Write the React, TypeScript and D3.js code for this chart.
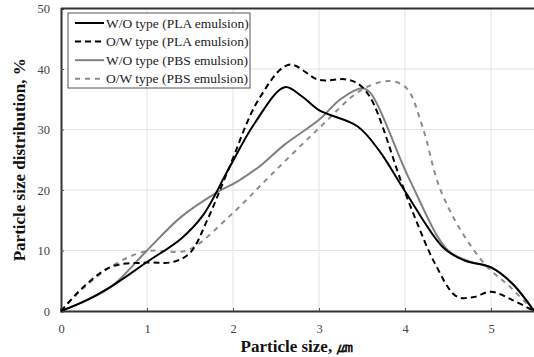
import React, { useRef, useEffect } from "react";
import * as d3 from "d3";

// particle size (um) / distribution (%)
const woPlaX = [0, 0.3, 0.6, 1.0, 1.4, 1.65, 1.95, 2.25, 2.6, 2.8, 3.0, 3.45, 3.7, 4.0, 4.45, 4.7, 5.0, 5.25, 5.5];
const woPlaY = [0, 1.8, 4.2, 8.1, 12, 15.8, 23.5, 31, 37, 35.5, 33.2, 30.5, 26.5, 19.8, 10.4, 8.3, 7.2, 4.5, 0];

const owPlaX = [0, 0.3, 0.6, 1.0, 1.3, 1.5, 1.7, 1.95, 2.3, 2.65, 3.0, 3.3, 3.45, 3.6, 3.95, 4.1, 4.35, 4.6, 4.8, 5.0, 5.25, 5.5];
const owPlaY = [0, 4.5, 7.4, 8.0, 8.1, 9.6, 15, 23.5, 35, 40.7, 38.2, 38.3, 37.6, 35.2, 21.6, 16, 7.8, 2.4, 2.3, 3.2, 1.8, 0];

const woPbsX = [0, 0.3, 0.6, 1.0, 1.4, 1.8, 2.05, 2.3, 2.6, 3.0, 3.25, 3.5, 3.6, 4.05, 4.5, 4.75, 5.0, 5.25, 5.5];
const woPbsY = [0, 1.8, 4.2, 10, 15.6, 19.5, 21.4, 23.8, 27.5, 31.6, 35, 36.8, 36, 21.8, 10, 8.2, 7.2, 4.5, 0];

const owPbsX = [0, 0.2, 0.6, 1.0, 1.4, 1.55, 2.0, 2.45, 3.0, 3.5, 3.83, 4.02, 4.2, 4.4, 4.65, 4.95, 5.22, 5.5];
const owPbsY = [0, 3, 7.5, 9.9, 9.8, 10.6, 16.2, 22.6, 30.2, 36.6, 38, 36.8, 30.6, 20.5, 13.3, 7.4, 4, 0];

const seriesNames = [
  "W/O type (PLA emulsion)",
  "O/W type (PLA emulsion)",
  "W/O type (PBS emulsion)",
  "O/W type (PBS emulsion)",
];

const xTicks = [0, 1, 2, 3, 4, 5];
const yTicks = [0, 10, 20, 30, 40, 50];

const App = () => {
  const ref = useRef<SVGSVGElement>(null);

  useEffect(() => {
    const svgWidth = 534;
    const svgHeight = 357;
    const margin = { top: 8.5, right: 0, bottom: 46, left: 61 };
    const serif = "Liberation Serif, serif";

    const svg = d3.select(ref.current)
      .attr("width", svgWidth)
      .attr("height", svgHeight)
      .attr("font-family", serif);
    svg.selectAll("*").remove();

    const xScale = d3.scaleLinear()
      .domain([0, 5.5])
      .range([margin.left, 534]);
    const yScale = d3.scaleLinear()
      .domain([0, 50])
      .range([svgHeight - margin.bottom, margin.top]);

    // grid
    svg.append("g")
      .selectAll("line.vg")
      .data(xTicks.slice(1))
      .join("line")
      .attr("x1", d => xScale(d)).attr("x2", d => xScale(d))
      .attr("y1", yScale(0)).attr("y2", yScale(50))
      .attr("stroke", "#e3e3e3").attr("stroke-width", 1);
    svg.append("g")
      .selectAll("line.hg")
      .data(yTicks.slice(1, -1))
      .join("line")
      .attr("x1", xScale(0)).attr("x2", xScale(5.5))
      .attr("y1", d => yScale(d)).attr("y2", d => yScale(d))
      .attr("stroke", "#e3e3e3").attr("stroke-width", 1);

    // axes
    const xAxis = svg.append("g")
      .attr("transform", `translate(0,${yScale(0)})`)
      .call(d3.axisBottom(xScale).tickValues(xTicks).tickSize(-3).tickPadding(13).tickFormat(d3.format("d")));
    const yAxis = svg.append("g")
      .attr("transform", `translate(${xScale(0)},0)`)
      .call(d3.axisLeft(yScale).tickValues(yTicks).tickSize(-3).tickPadding(11));
    [xAxis, yAxis].forEach(a => {
      a.attr("font-family", serif).attr("font-size", 12.5);
      a.select(".domain").attr("stroke", "#333").attr("stroke-width", 2);
      a.selectAll(".tick line").attr("stroke", "#555");
      a.selectAll("text").attr("fill", "#444");
    });
    svg.append("line")
      .attr("x1", xScale(0)).attr("x2", xScale(5.5))
      .attr("y1", yScale(50)).attr("y2", yScale(50))
      .attr("stroke", "#333").attr("stroke-width", 2);

    // lines
    const styles = [
      { color: "#000", dash: null, width: 2 },
      { color: "#000", dash: "6,4", width: 2 },
      { color: "#808080", dash: null, width: 2 },
      { color: "#8c8c8c", dash: "5,5", width: 2 },
    ];
    const data = [
      d3.zip(woPlaX, woPlaY),
      d3.zip(owPlaX, owPlaY),
      d3.zip(woPbsX, woPbsY),
      d3.zip(owPbsX, owPbsY),
    ];
    const line = d3.line<number[]>()
      .x(d => xScale(d[0]))
      .y(d => yScale(d[1]))
      .curve(d3.curveCatmullRom.alpha(0.5));

    // draw order: gray first, black on top
    [3, 2, 1, 0].forEach(i => {
      svg.append("path")
        .datum(data[i])
        .attr("fill", "none")
        .attr("stroke", styles[i].color)
        .attr("stroke-width", styles[i].width)
        .attr("stroke-dasharray", styles[i].dash)
        .attr("d", line);
    });

    // legend
    const legend = svg.append("g").attr("transform", "translate(68,13)");
    legend.append("rect")
      .attr("width", 182).attr("height", 75)
      .attr("fill", "#fff").attr("stroke", "#555").attr("stroke-width", 1);
    seriesNames.forEach((name, i) => {
      const y = 10 + i * 18.6;
      legend.append("line")
        .attr("x1", 7).attr("x2", 36).attr("y1", y).attr("y2", y)
        .attr("stroke", styles[i].color)
        .attr("stroke-width", styles[i].width)
        .attr("stroke-dasharray", styles[i].dash);
      legend.append("text")
        .attr("x", 38).attr("y", y + 4.5)
        .attr("font-family", serif)
        .attr("font-size", 13.5)
        .attr("fill", "#222")
        .text(name);
    });

    // axis titles
    svg.append("text")
      .attr("x", 297).attr("y", 352)
      .attr("text-anchor", "middle")
      .attr("font-family", serif)
      .attr("font-size", 17)
      .attr("font-weight", "bold")
      .attr("fill", "#111")
      .text("Particle size, ㎛");
    svg.append("text")
      .attr("transform", `translate(25,${yScale(25)}) rotate(-90)`)
      .attr("text-anchor", "middle")
      .attr("font-family", serif)
      .attr("font-size", 17)
      .attr("font-weight", "bold")
      .attr("fill", "#111")
      .text("Particle size distribution, %");
  }, []);

  return (
    <div style={{ position: "absolute", left: 0, top: 0 }}>
      <svg ref={ref}></svg>
    </div>
  );
};

export default App;
